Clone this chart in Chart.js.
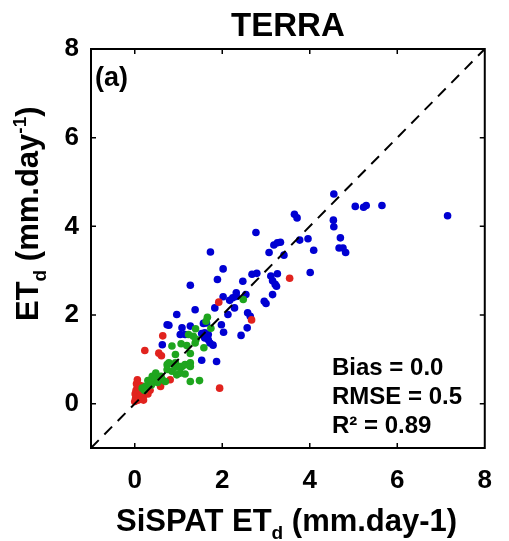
<!DOCTYPE html>
<html>
<head>
<meta charset="utf-8">
<script src="https://cdn.jsdelivr.net/npm/chart.js@4"></script>
<style>
html,body{margin:0;padding:0;background:#fff;}
#wrap{width:509px;height:541px;position:relative;}
</style>
</head>
<body>
<div id="wrap"><canvas id="c" width="509" height="541"></canvas></div>
<script>
// ---- data ----
const tickValues = [0, 2, 4, 6, 8];
const axisMin = -1, axisMax = 8;

const blueX = [3.65,3.71,2.77,1.73,3.26,3.33,3.18,3.07,3.41,2.02,1.89,1.27,2.47,2.68,2.79,3.11,3.26,3.15,3.21,3.24,2.54,3.15,2.96,3.00,2.24,2.32,2.02,1.83,2.28,1.38,2.13,2.58,2.64,0.96,0.74,0.78,1.08,1.27,1.57,1.64,1.98,2.57,1.04,1.53,1.60,1.68,2.03,2.43,1.72,1.79,0.63,1.53,1.87,4.55,5.04,5.23,5.29,5.65,7.15,4.54,4.55,3.77,3.96,4.09,4.70,4.67,4.76,4.82,4.01,1.15,1.64,2.32,2.17,1.60,1.68];
const blueY = [4.27,4.19,3.86,3.42,3.63,3.64,3.58,3.41,3.35,3.04,2.80,2.67,2.76,2.92,2.94,2.88,2.93,2.77,2.69,2.65,2.46,2.46,2.31,2.26,2.39,2.42,2.41,2.16,2.16,2.12,2.01,2.05,1.97,2.01,1.78,1.77,1.71,1.75,1.81,1.82,1.78,1.71,1.56,1.58,1.60,1.56,1.61,1.54,1.37,1.32,1.33,0.98,0.95,4.73,4.45,4.43,4.47,4.47,4.24,4.14,3.99,3.69,3.72,3.46,3.74,3.51,3.51,3.41,2.96,1.56,1.52,2.50,2.33,1.48,1.44];

const greenX = [2.48,1.66,1.63,1.74,1.39,1.34,1.40,1.38,1.23,1.06,0.85,1.19,1.58,0.93,1.27,0.74,0.78,0.93,0.93,1.04,1.08,1.15,1.27,1.27,1.04,1.15,0.96,0.85,0.74,1.27,1.48,0.40,0.48,0.55,0.33,0.25,0.17,0.63,0.70,0.45,0.52,0.60,0.30,0.22,0.38];
const greenY = [2.35,1.95,1.86,1.70,1.69,1.52,1.45,1.37,1.56,1.35,1.30,1.31,1.26,1.11,1.13,0.88,0.92,0.92,0.82,0.84,0.84,0.88,0.92,0.84,0.69,0.67,0.65,0.73,0.77,0.50,0.52,0.62,0.69,0.58,0.47,0.39,0.35,0.54,0.50,0.55,0.48,0.62,0.52,0.30,0.42];

const redX = [3.54,1.92,2.67,0.64,0.23,0.55,0.61,1.94,0.81,0.06,0.59,0.00,0.02,0.05,0.08,0.10,0.12,0.15,0.18,0.20,0.22,0.03,0.06,0.10,0.14,0.25,0.28,0.08,0.16,0.04,0.30,0.01,0.12,0.20,0.35];
const redY = [2.83,2.29,1.89,1.53,1.20,1.14,1.08,0.35,0.54,0.54,0.39,0.05,0.12,0.20,0.25,0.15,0.30,0.22,0.28,0.18,0.35,0.30,0.38,0.42,0.10,0.25,0.32,0.08,0.40,0.45,0.22,0.22,0.18,0.08,0.30];

const statLines = ["Bias = 0.0", "RMSE = 0.5", "R\u00B2 = 0.89"];
const titleText = "TERRA";
const panelLabel = "(a)";

function pts(xs, ys){ return xs.map((x,i)=>({x:x, y:ys[i]})); }

const FONT = '"Liberation Sans", Arial, sans-serif';

const framePlugin = {
  id: 'frame',
  afterDatasetsDraw(chart){
    const ctx = chart.ctx, a = chart.chartArea;
    const xs = chart.scales.x, ys = chart.scales.y;
    ctx.save();
    ctx.strokeStyle = '#000';
    ctx.lineWidth = 2;
    ctx.strokeRect(a.left, a.top, a.right - a.left, a.bottom - a.top);
    ctx.lineWidth = 1.5;
    const tl = 5;
    [0,2,4,6].forEach(v=>{
      const px = xs.getPixelForValue(v);
      const py = ys.getPixelForValue(v);
      ctx.beginPath();
      ctx.moveTo(px, a.bottom); ctx.lineTo(px, a.bottom - tl);
      ctx.moveTo(px, a.top); ctx.lineTo(px, a.top + tl);
      ctx.moveTo(a.left, py); ctx.lineTo(a.left + tl, py);
      ctx.moveTo(a.right, py); ctx.lineTo(a.right - tl, py);
      ctx.stroke();
    });
    // panel label
    ctx.fillStyle = '#000';
    ctx.font = 'bold 27px ' + FONT;
    ctx.textAlign = 'left';
    ctx.textBaseline = 'alphabetic';
    ctx.fillText(panelLabel, a.left + 4, a.top + 37);
    // stats
    ctx.font = 'bold 24px ' + FONT;
    statLines.forEach((s,i)=>{
      ctx.fillText(s, a.left + 241, a.top + 326 + i*29);
    });
    ctx.restore();
  },
  afterDraw(chart){
    const ctx = chart.ctx, a = chart.chartArea;
    ctx.save();
    ctx.fillStyle = '#000';
    // title
    ctx.font = 'bold 33px ' + FONT;
    ctx.textAlign = 'center';
    ctx.textBaseline = 'alphabetic';
    ctx.fillText(titleText, (a.left + a.right)/2, 36);
    const big = 'bold 31px ' + FONT, small = 'bold 19px ' + FONT;
    ctx.textAlign = 'left';
    // x title with subscript, starting at left
    const xparts = [["SiSPAT ET",0,0],["d",1,8],[" (mm.day-1)",0,0]];
    let cx = 116;
    xparts.forEach(p=>{
      ctx.font = p[1] ? small : big;
      ctx.fillText(p[0], cx, 531 + p[2]);
      cx += ctx.measureText(p[0]).width;
    });
    // y title rotated
    ctx.translate(38, 321);
    ctx.rotate(-Math.PI/2);
    const yparts = [["ET",0,0],["d",1,8],[" (mm.day",0,0],["-1",1,-12],[")",0,0]];
    cx = 0;
    yparts.forEach(p=>{
      ctx.font = p[1] ? small : big;
      ctx.fillText(p[0], cx, p[2]);
      cx += ctx.measureText(p[0]).width;
    });
    ctx.restore();
  }
};

const tickFont = {family: FONT, size: 26, weight: 'bold'};

new Chart(document.getElementById('c'), {
  type: 'scatter',
  data: {
    datasets: [
      {label:'1:1', type:'line', data:[{x:axisMin,y:axisMin},{x:axisMax,y:axisMax}], borderColor:'#000', borderWidth:2, borderDash:[11,8], pointRadius:0, fill:false, order:0},
      {label:'blue', data: pts(blueX, blueY), backgroundColor:'rgb(0,0,210)', pointRadius:3.8, borderWidth:0, order:3},
      {label:'red', data: pts(redX, redY), backgroundColor:'rgb(225,35,30)', pointRadius:3.8, borderWidth:0, order:2},
      {label:'green', data: pts(greenX, greenY), backgroundColor:'rgb(30,165,30)', pointRadius:3.8, borderWidth:0, order:1}
    ]
  },
  options: {
    responsive: false,
    animation: false,
    devicePixelRatio: 1,
    layout: {padding: {top: 49, right: 19, left: 0, bottom: 0}},
    plugins: {legend: {display:false}, tooltip: {enabled:false}},
    scales: {
      x: {
        type: 'linear', min: axisMin, max: axisMax,
        afterBuildTicks: s => { s.ticks = tickValues.map(v=>({value:v})); },
        afterFit: s => { s.height = 93; },
        grid: {display:false, drawTicks:false},
        border: {display:false},
        ticks: {font: tickFont, color:'#000', padding: 17, maxRotation:0, autoSkip:false}
      },
      y: {
        type: 'linear', min: axisMin, max: axisMax,
        afterBuildTicks: s => { s.ticks = tickValues.map(v=>({value:v})); },
        afterFit: s => { s.width = 91; },
        grid: {display:false, drawTicks:false},
        border: {display:false},
        ticks: {font: tickFont, color:'#000', padding: 12, autoSkip:false}
      }
    }
  },
  plugins: [framePlugin]
});
</script>
</body>
</html>
